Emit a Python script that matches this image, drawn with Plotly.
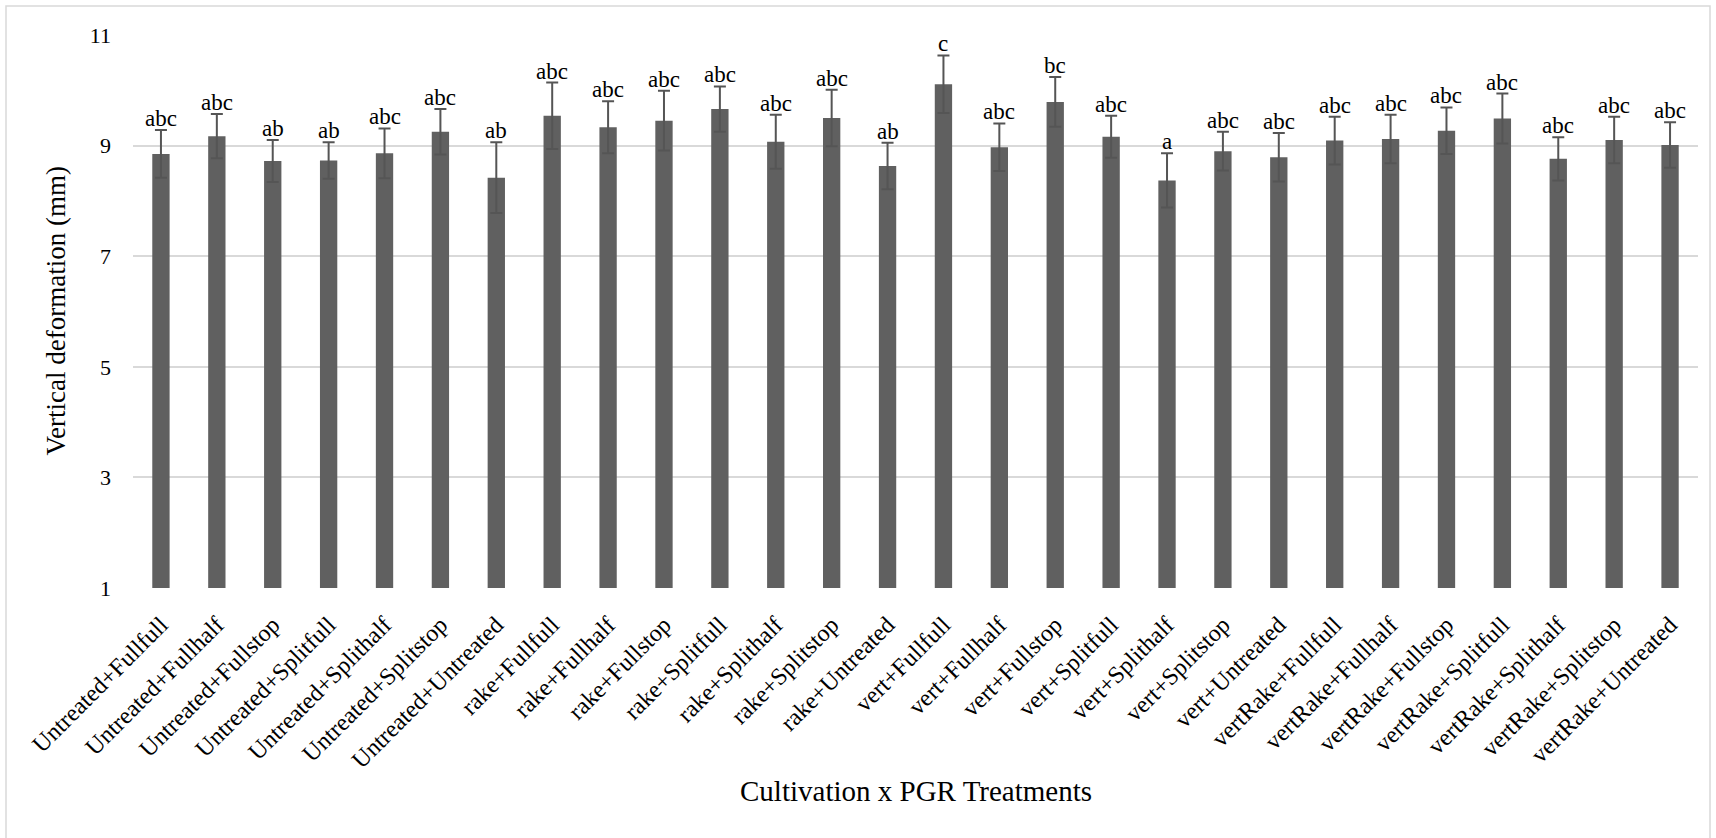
import plotly.graph_objects as go

categories = [
    "Untreated+Fullfull", "Untreated+Fullhalf", "Untreated+Fullstop", "Untreated+Splitfull",
    "Untreated+Splithalf", "Untreated+Splitstop", "Untreated+Untreated",
    "rake+Fullfull", "rake+Fullhalf", "rake+Fullstop", "rake+Splitfull",
    "rake+Splithalf", "rake+Splitstop", "rake+Untreated",
    "vert+Fullfull", "vert+Fullhalf", "vert+Fullstop", "vert+Splitfull",
    "vert+Splithalf", "vert+Splitstop", "vert+Untreated",
    "vertRake+Fullfull", "vertRake+Fullhalf", "vertRake+Fullstop", "vertRake+Splitfull",
    "vertRake+Splithalf", "vertRake+Splitstop", "vertRake+Untreated",
]
values = [8.85, 9.17, 8.72, 8.73, 8.86, 9.25, 8.42,
          9.54, 9.33, 9.45, 9.66, 9.07, 9.50, 8.63,
          10.11, 8.97, 9.79, 9.16, 8.37, 8.90, 8.79,
          9.09, 9.12, 9.27, 9.49, 8.76, 9.10, 9.01]
errors = [0.43, 0.40, 0.38, 0.33, 0.45, 0.41, 0.64,
          0.60, 0.47, 0.54, 0.41, 0.49, 0.51, 0.42,
          0.52, 0.43, 0.45, 0.38, 0.49, 0.35, 0.44,
          0.43, 0.44, 0.42, 0.45, 0.39, 0.42, 0.41]
letters = ["abc", "abc", "ab", "ab", "abc", "abc", "ab",
           "abc", "abc", "abc", "abc", "abc", "abc", "ab",
           "c", "abc", "bc", "abc", "a", "abc", "abc",
           "abc", "abc", "abc", "abc", "abc", "abc", "abc"]
y_ticks = [1, 3, 5, 7, 9, 11]

FONT = "Liberation Serif, Times New Roman, serif"
W, H = 1716, 838
L, R, T, B = 133, 18, 35, 250
pw, ph = W - L - R, H - T - B

fig = go.Figure()
fig.add_trace(go.Bar(
    x=categories, y=values,
    marker=dict(color="#606060", line=dict(width=0)),
    error_y=dict(type="data", array=errors, visible=True,
                 color="#555555", thickness=2, width=6),
    showlegend=False,
))

for c, v, e, t in zip(categories, values, errors, letters):
    fig.add_annotation(x=c, y=v + e, xref="x", yref="y", text=t,
                       showarrow=False, yanchor="bottom", yshift=-3,
                       font=dict(family=FONT, size=23, color="black"))

# axis titles
fig.add_annotation(text="Cultivation x PGR Treatments", xref="paper", yref="paper",
                   x=0.5, y=-(791 - (T + ph)) / ph, yanchor="middle", showarrow=False,
                   font=dict(family=FONT, size=29, color="black"))
fig.add_annotation(text="Vertical deformation (mm)", xref="paper", yref="paper",
                   x=(55 - L) / pw, y=0.5, xanchor="center", yanchor="middle",
                   textangle=-90, showarrow=False,
                   font=dict(family=FONT, size=27, color="black"))

# outer chart border
fig.add_shape(type="rect", xref="paper", yref="paper",
              x0=(6 - L) / pw, x1=(1710 - L) / pw,
              y0=-(850 - T - ph) / ph, y1=1 + (T - 6) / ph,
              line=dict(color="#d9d9d9", width=1.5), layer="below")

fig.update_layout(
    width=W, height=H,
    margin=dict(l=L, r=R, t=T, b=B),
    paper_bgcolor="white", plot_bgcolor="white",
    bargap=0.69,
    font=dict(family=FONT, size=22, color="black"),
    xaxis=dict(tickangle=-45, tickfont=dict(family=FONT, size=24, color="black"),
               showgrid=False, showline=False, ticks="", ticklabelstandoff=17),
    yaxis=dict(range=[1, 11], tickvals=y_ticks, showgrid=True,
               gridcolor="#d9d9d9", gridwidth=1.5, zeroline=False, showline=False,
               ticks="", ticklabelstandoff=21,
               tickfont=dict(family=FONT, size=22, color="black")),
)

fig.write_html("out.html")
